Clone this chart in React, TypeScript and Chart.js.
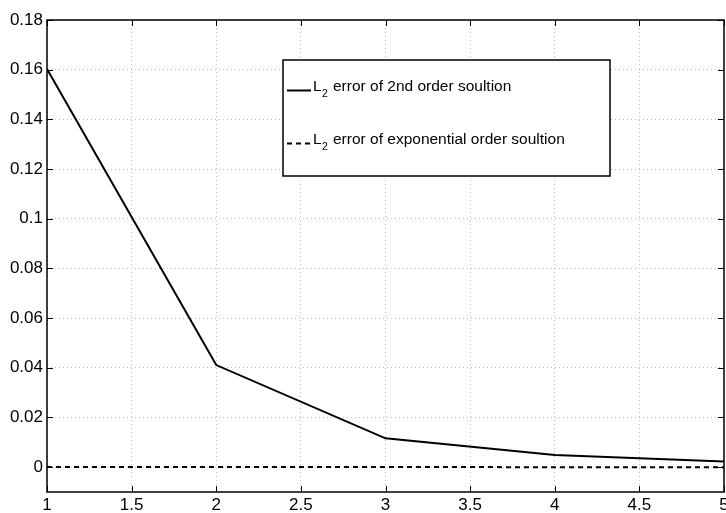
import React, { useEffect, useRef } from "react";
import { Chart, registerables } from "chart.js";

Chart.register(...registerables);

const xValues = [1, 2, 3, 4, 5];
const secondOrder = [0.1603, 0.0411, 0.0116, 0.0049, 0.0023];
const exponentialOrder = [0.0001, 0.00005, 0.00002, 0.00001, 0.000005];
const yTickValues = [0, 0.02, 0.04, 0.06, 0.08, 0.1, 0.12, 0.14, 0.16, 0.18];
const legendLabels = ["error of 2nd order soultion", "error of exponential order soultion"];

const FONT = "'Liberation Sans', Arial, Helvetica, sans-serif";

const framePlugin = {
  id: "frame",
  afterDraw(chart: any) {
    const { ctx, chartArea } = chart;
    const { left, right, top, bottom } = chartArea;
    const xs = chart.scales.x;
    const ys = chart.scales.y;
    ctx.save();
    ctx.strokeStyle = "#000";
    ctx.lineWidth = 1;
    ctx.setLineDash([]);
    const tl = 6;
    ctx.beginPath();
    xs.ticks.forEach((t: any) => {
      const px = Math.round(xs.getPixelForValue(t.value)) + 0.5;
      ctx.moveTo(px, bottom);
      ctx.lineTo(px, bottom - tl);
      ctx.moveTo(px, top);
      ctx.lineTo(px, top + tl);
    });
    ys.ticks.forEach((t: any) => {
      const py = Math.round(ys.getPixelForValue(t.value)) + 0.5;
      ctx.moveTo(left, py);
      ctx.lineTo(left + tl, py);
      ctx.moveTo(right, py);
      ctx.lineTo(right - tl, py);
    });
    ctx.stroke();
    ctx.lineWidth = 1.5;
    ctx.strokeRect(left, top, right - left, bottom - top);

    // legend
    const bx = 283, by = 60, bw = 327, bh = 116;
    ctx.fillStyle = "#fff";
    ctx.fillRect(bx, by, bw, bh);
    ctx.strokeRect(bx, by, bw, bh);
    const rows = [91, 144];
    const dashes = [[], [5, 4]];
    rows.forEach((base, i) => {
      ctx.setLineDash(dashes[i]);
      ctx.lineWidth = 2;
      ctx.beginPath();
      ctx.moveTo(287, base - 0.5);
      ctx.lineTo(311, base - 0.5);
      ctx.stroke();
      ctx.setLineDash([]);
      ctx.fillStyle = "#000";
      ctx.textAlign = "left";
      ctx.textBaseline = "alphabetic";
      ctx.font = `15.5px ${FONT}`;
      ctx.fillText("L", 313, base);
      ctx.font = `10.5px ${FONT}`;
      ctx.fillText("2", 322, base + 6);
      ctx.font = `15.5px ${FONT}`;
      ctx.fillText(legendLabels[i], 333, base);
    });
    ctx.restore();
  },
};

export default function App() {
  const ref = useRef<HTMLCanvasElement | null>(null);
  useEffect(() => {
    if (!ref.current) return;
    Chart.defaults.font.family = FONT;
    const chart = new Chart(ref.current, {
      type: "line",
      data: {
        labels: xValues,
        datasets: [
          {
            label: "L2 error of 2nd order soultion",
            data: xValues.map((x, i) => ({ x, y: secondOrder[i] })),
            borderColor: "#000",
            borderWidth: 2,
            pointRadius: 0,
            fill: false,
            tension: 0,
          },
          {
            label: "L2 error of exponential order soultion",
            data: xValues.map((x, i) => ({ x, y: exponentialOrder[i] })),
            borderColor: "#000",
            borderWidth: 2,
            borderDash: [5, 4],
            pointRadius: 0,
            fill: false,
            tension: 0,
          },
        ],
      },
      options: {
        responsive: false,
        animation: false,
        layout: { padding: { top: 20, right: 2, left: 0, bottom: 0 } },
        plugins: { legend: { display: false }, tooltip: { enabled: false } },
        scales: {
          x: {
            type: "linear",
            min: 1,
            max: 5,
            ticks: {
              stepSize: 0.5,
              color: "#000",
              font: { size: 17 },
              padding: 3,
              maxRotation: 0,
              callback: (v: any) => String(v),
            },
            grid: { color: "#bdbdbd", lineWidth: 1, drawTicks: false },
            border: { display: false, dash: [1, 3] },
            afterFit(scale: any) {
              scale.height = 21;
              scale.paddingLeft = 0;
              scale.paddingRight = 0;
            },
          },
          y: {
            type: "linear",
            min: -0.01,
            max: 0.18,
            afterBuildTicks(scale: any) {
              scale.ticks = yTickValues.map((v) => ({ value: v }));
            },
            ticks: {
              color: "#000",
              font: { size: 17 },
              padding: 4,
              callback: (v: any) => String(Math.round(Number(v) * 100) / 100),
            },
            grid: { color: "#bdbdbd", lineWidth: 1, drawTicks: false },
            border: { display: false, dash: [1, 3] },
            afterFit(scale: any) {
              scale.width = 47;
              scale.paddingTop = 0;
              scale.paddingBottom = 0;
            },
          },
        },
      },
      plugins: [framePlugin],
    });
    return () => chart.destroy();
  }, []);
  return (
    <div style={{ position: "fixed", left: 0, top: 0, width: 726, height: 513, background: "#fff" }}>
      <canvas ref={ref} width={726} height={513} style={{ display: "block" }} />
    </div>
  );
}
